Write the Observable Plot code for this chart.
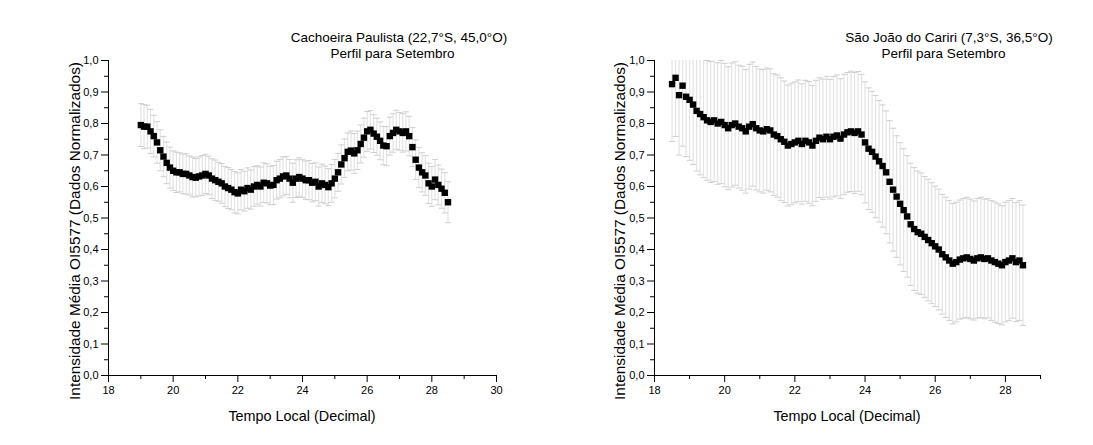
<!DOCTYPE html>
<html>
<head>
<meta charset="utf-8">
<script src="https://cdn.jsdelivr.net/npm/d3@7"></script>
<script src="https://cdn.jsdelivr.net/npm/@observablehq/plot@0.6"></script>
<style>
  body { margin: 0; background: #fff; font-family: "Liberation Sans", Arial, sans-serif; }
  #page { position: relative; width: 1093px; height: 445px; overflow: hidden; background: #fff; }
  .panel { position: absolute; top: 0; }
  .topline { position: absolute; left: 5px; top: 8px; width: 1055px; height: 0; border-top: 1px solid #000; }
  #labels { position: absolute; left: 0; top: 0; pointer-events: none; }
</style>
</head>
<body>
<div id="page">
  <div class="topline"></div>
  <div class="panel" id="left" style="left:0px"></div>
  <div class="panel" id="right" style="left:546px"></div>
</div>
<script>
// Cachoeira Paulista (22,7°S, 45,0°O) – mean OI5577 profile, September
const hoursCP = [
  19.0, 19.1, 19.2, 19.3, 19.4, 19.5, 19.6, 19.7, 19.8, 19.9,
  20.0, 20.1, 20.2, 20.3, 20.4, 20.5, 20.6, 20.7, 20.8, 20.9,
  21.0, 21.1, 21.2, 21.3, 21.4, 21.5, 21.6, 21.7, 21.8, 21.9,
  22.0, 22.1, 22.2, 22.3, 22.4, 22.5, 22.6, 22.7, 22.8, 22.9,
  23.0, 23.1, 23.2, 23.3, 23.4, 23.5, 23.6, 23.7, 23.8, 23.9,
  24.0, 24.1, 24.2, 24.3, 24.4, 24.5, 24.6, 24.7, 24.8, 24.9,
  25.0, 25.1, 25.2, 25.3, 25.4, 25.5, 25.6, 25.7, 25.8, 25.9,
  26.0, 26.1, 26.2, 26.3, 26.4, 26.5, 26.6, 26.7, 26.8, 26.9,
  27.0, 27.1, 27.2, 27.3, 27.4, 27.5, 27.6, 27.7, 27.8, 27.9,
  28.0, 28.1, 28.2, 28.3, 28.4, 28.5
];
const meanCP = [
  0.795, 0.790, 0.790, 0.775, 0.760, 0.740, 0.715, 0.695, 0.675, 0.660,
  0.650, 0.645, 0.645, 0.640, 0.640, 0.635, 0.630, 0.628, 0.632, 0.635,
  0.640, 0.635, 0.625, 0.620, 0.615, 0.610, 0.600, 0.595, 0.590, 0.582,
  0.578, 0.590, 0.585, 0.595, 0.590, 0.600, 0.605, 0.600, 0.612, 0.610,
  0.603, 0.605, 0.620, 0.625, 0.632, 0.635, 0.625, 0.612, 0.625, 0.630,
  0.625, 0.620, 0.620, 0.612, 0.615, 0.600, 0.610, 0.605, 0.598, 0.610,
  0.625, 0.645, 0.670, 0.690, 0.710, 0.714, 0.705, 0.715, 0.735, 0.755,
  0.775, 0.780, 0.768, 0.758, 0.745, 0.730, 0.728, 0.760, 0.770, 0.780,
  0.775, 0.770, 0.775, 0.760, 0.725, 0.685, 0.660, 0.645, 0.635, 0.610,
  0.600, 0.622, 0.605, 0.593, 0.580, 0.550
];
const errCP = [
  0.068, 0.070, 0.068, 0.070, 0.066, 0.066, 0.065, 0.064, 0.066, 0.065,
  0.063, 0.064, 0.062, 0.063, 0.064, 0.062, 0.063, 0.061, 0.062, 0.063,
  0.062, 0.061, 0.063, 0.064, 0.062, 0.063, 0.064, 0.065, 0.064, 0.066,
  0.065, 0.064, 0.063, 0.064, 0.062, 0.063, 0.061, 0.062, 0.063, 0.062,
  0.061, 0.062, 0.060, 0.061, 0.062, 0.060, 0.061, 0.062, 0.060, 0.061,
  0.060, 0.061, 0.062, 0.061, 0.060, 0.062, 0.061, 0.060, 0.059, 0.060,
  0.061, 0.060, 0.062, 0.061, 0.060, 0.062, 0.063, 0.061, 0.060, 0.062,
  0.063, 0.061, 0.060, 0.059, 0.060, 0.061, 0.062, 0.060, 0.061, 0.062,
  0.060, 0.061, 0.062, 0.063, 0.062, 0.063, 0.064, 0.062, 0.063, 0.064,
  0.063, 0.064, 0.063, 0.062, 0.064, 0.065
];

// São João do Cariri (7,3°S, 36,5°O) – mean OI5577 profile, September
const hoursSJ = [
  18.5, 18.6, 18.7, 18.8, 18.9,
  19.0, 19.1, 19.2, 19.3, 19.4, 19.5, 19.6, 19.7, 19.8, 19.9,
  20.0, 20.1, 20.2, 20.3, 20.4, 20.5, 20.6, 20.7, 20.8, 20.9,
  21.0, 21.1, 21.2, 21.3, 21.4, 21.5, 21.6, 21.7, 21.8, 21.9,
  22.0, 22.1, 22.2, 22.3, 22.4, 22.5, 22.6, 22.7, 22.8, 22.9,
  23.0, 23.1, 23.2, 23.3, 23.4, 23.5, 23.6, 23.7, 23.8, 23.9,
  24.0, 24.1, 24.2, 24.3, 24.4, 24.5, 24.6, 24.7, 24.8, 24.9,
  25.0, 25.1, 25.2, 25.3, 25.4, 25.5, 25.6, 25.7, 25.8, 25.9,
  26.0, 26.1, 26.2, 26.3, 26.4, 26.5, 26.6, 26.7, 26.8, 26.9,
  27.0, 27.1, 27.2, 27.3, 27.4, 27.5, 27.6, 27.7, 27.8, 27.9,
  28.0, 28.1, 28.2, 28.3, 28.4, 28.5
];
const meanSJ = [
  0.925, 0.945, 0.890, 0.920, 0.885,
  0.875, 0.860, 0.840, 0.830, 0.820, 0.810, 0.805, 0.810, 0.800, 0.805,
  0.795, 0.785, 0.795, 0.800, 0.790, 0.785, 0.775, 0.790, 0.798, 0.785,
  0.778, 0.775, 0.782, 0.778, 0.765, 0.760, 0.750, 0.742, 0.730, 0.735,
  0.740, 0.745, 0.735, 0.745, 0.740, 0.730, 0.745, 0.755, 0.750, 0.758,
  0.750, 0.758, 0.762, 0.752, 0.765, 0.772, 0.775, 0.770, 0.775, 0.765,
  0.740, 0.720, 0.710, 0.695, 0.680, 0.665, 0.645, 0.615, 0.590, 0.568,
  0.545, 0.525, 0.505, 0.480, 0.465, 0.455, 0.450, 0.440, 0.430, 0.420,
  0.410, 0.400, 0.385, 0.375, 0.365, 0.355, 0.360, 0.368, 0.372, 0.375,
  0.370, 0.365, 0.372, 0.375, 0.370, 0.372, 0.365, 0.360, 0.355, 0.350,
  0.360, 0.365, 0.372, 0.360, 0.365, 0.350
];
const errSJ = [
  0.182, 0.186, 0.190, 0.192, 0.190,
  0.192, 0.190, 0.191, 0.193, 0.192, 0.190, 0.192, 0.194, 0.193, 0.195,
  0.196, 0.195, 0.197, 0.196, 0.195, 0.197, 0.196, 0.198, 0.197, 0.196,
  0.195, 0.196, 0.194, 0.195, 0.193, 0.194, 0.195, 0.193, 0.192, 0.193,
  0.192, 0.193, 0.191, 0.192, 0.193, 0.191, 0.192, 0.190, 0.191, 0.192,
  0.190, 0.191, 0.192, 0.190, 0.191, 0.190, 0.191, 0.192, 0.190, 0.191,
  0.192, 0.193, 0.192, 0.194, 0.193, 0.194, 0.195, 0.194, 0.195, 0.193,
  0.194, 0.195, 0.193, 0.194, 0.195, 0.194, 0.193, 0.192, 0.193, 0.192,
  0.191, 0.192, 0.190, 0.191, 0.190, 0.191, 0.190, 0.189, 0.190, 0.191,
  0.190, 0.189, 0.190, 0.191, 0.190, 0.189, 0.190, 0.191, 0.190, 0.189,
  0.190, 0.191, 0.190, 0.189, 0.190, 0.191
];

// Axis ticks
const yMajor = [0, 0.1, 0.2, 0.3, 0.4, 0.5, 0.6, 0.7, 0.8, 0.9, 1.0];
const yMinor = [0.05, 0.15, 0.25, 0.35, 0.45, 0.55, 0.65, 0.75, 0.85, 0.95];
const xMajorCP = [18, 20, 22, 24, 26, 28, 30];
const xMinorCP = [19, 21, 23, 25, 27, 29];
const xMajorSJ = [18, 20, 22, 24, 26, 28];
const xMinorSJ = [19, 21, 23, 25, 27, 29];

const titlesCP = ["Cachoeira Paulista (22,7°S, 45,0°O)", "Perfil para Setembro"];
const titlesSJ = ["São João do Cariri (7,3°S, 36,5°O)", "Perfil para Setembro"];
const xTitle = "Tempo Local (Decimal)";
const yTitle = "Intensidade Média OI5577 (Dados Normalizados)";

const commaFmt = d => d3.format(".1f")(d).replace(".", ",");

// short horizontal error-bar cap, fixed pixel width
const capSymbol = {
  draw(context) {
    context.moveTo(-3, 0);
    context.lineTo(3, 0);
  }
};

function profile({hours, mean, err, xDomain, xMajor, xMinor, width, marginRight}) {
  const rows = hours.map((t, i) => ({t, v: mean[i], lo: mean[i] - err[i], hi: mean[i] + err[i]}));
  return Plot.plot({
    width,
    height: 445,
    marginLeft: 108,
    marginRight,
    marginTop: 60,
    marginBottom: 70,
    style: {fontFamily: "'Liberation Sans', Arial, sans-serif", fontSize: "11px", color: "#000", background: "#fff", overflow: "visible"},
    x: {domain: xDomain},
    y: {domain: [0, 1]},
    marks: [
      Plot.ruleX(rows, {x: "t", y1: "lo", y2: "hi", stroke: "#e3e3e3", strokeWidth: 1.2, clip: true}),
      Plot.dot(rows, {x: "t", y: "hi", symbol: capSymbol, stroke: "#cfcfcf", strokeWidth: 1, fill: "none", clip: true}),
      Plot.dot(rows, {x: "t", y: "lo", symbol: capSymbol, stroke: "#cfcfcf", strokeWidth: 1, fill: "none", clip: true}),
      Plot.dot(rows, {x: "t", y: "v", symbol: "square", r: 3.6, fill: "#000", stroke: "none"}),
      Plot.axisY(yMajor, {tickSize: 7, tickPadding: 3, tickFormat: commaFmt, fontSize: 11, label: null}),
      Plot.axisY(yMinor, {tickSize: 4, tickFormat: () => "", label: null}),
      Plot.axisX(xMajor, {tickSize: 7, tickPadding: 4, tickFormat: d => String(d), fontSize: 11, label: null}),
      Plot.axisX(xMinor, {tickSize: 4, tickFormat: () => "", label: null}),
      Plot.ruleX([xDomain[0]], {stroke: "#000", strokeWidth: 1}),
      Plot.ruleY([0], {stroke: "#000", strokeWidth: 1})
    ]
  });
}

document.getElementById("left").appendChild(profile({
  hours: hoursCP, mean: meanCP, err: errCP, xDomain: [18, 30],
  xMajor: xMajorCP, xMinor: xMinorCP, width: 546, marginRight: 50
}));
document.getElementById("right").appendChild(profile({
  hours: hoursSJ, mean: meanSJ, err: errSJ, xDomain: [18, 29],
  xMajor: xMajorSJ, xMinor: xMinorSJ, width: 547, marginRight: 53
}));

// Titles and axis names drawn over both panels
const svg = d3.select("#page").append("svg")
  .attr("id", "labels").attr("width", 1093).attr("height", 445)
  .style("font-family", "'Liberation Sans', Arial, sans-serif");

const heads = [
  {text: titlesCP[0], x: 399, y: 41.5}, {text: titlesCP[1], x: 392.5, y: 58},
  {text: titlesSJ[0], x: 949, y: 41.5}, {text: titlesSJ[1], x: 943.5, y: 58}
];
svg.selectAll("text.head").data(heads).join("text")
  .attr("class", "head").attr("x", d => d.x).attr("y", d => d.y)
  .attr("text-anchor", "middle").attr("font-size", 13.5).attr("fill", "#000")
  .text(d => d.text);

svg.selectAll("text.xt").data([302, 847]).join("text")
  .attr("class", "xt").attr("x", d => d).attr("y", 421)
  .attr("text-anchor", "middle").attr("font-size", 14.4).attr("fill", "#000")
  .text(xTitle);

svg.selectAll("text.yt").data([79.5, 625]).join("text")
  .attr("class", "yt")
  .attr("transform", d => `translate(${d},231) rotate(-90)`)
  .attr("text-anchor", "middle").attr("font-size", 15.4).attr("fill", "#000")
  .text(yTitle);
</script>
</body>
</html>
